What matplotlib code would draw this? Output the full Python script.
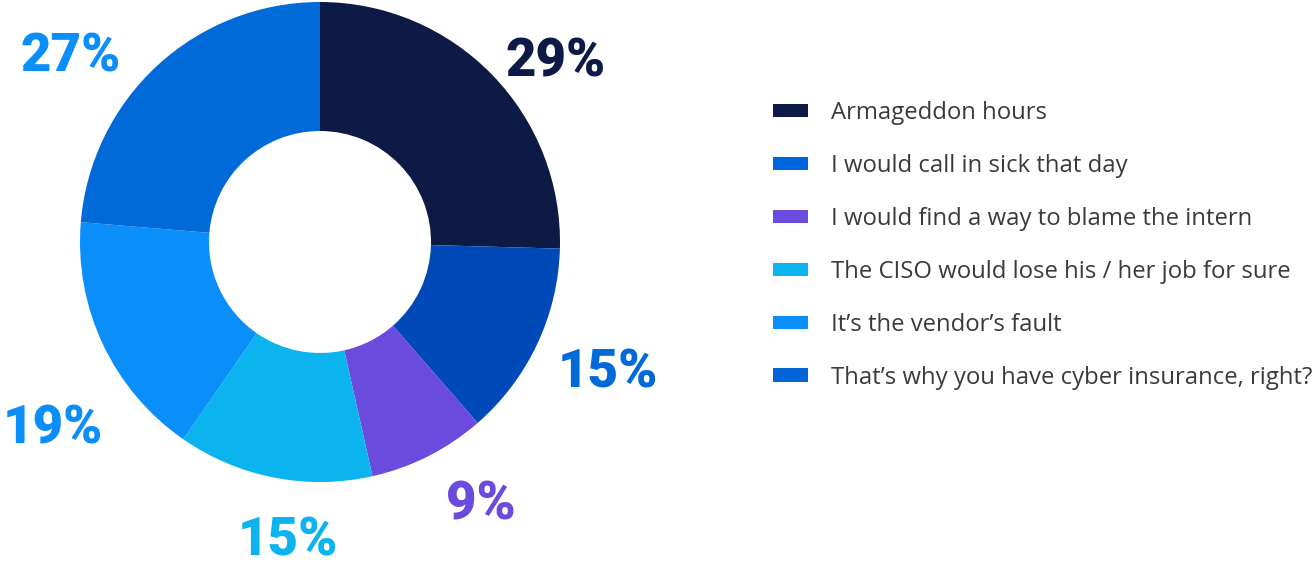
import matplotlib
matplotlib.use("Agg")
import matplotlib.pyplot as plt
from matplotlib.patches import Patch

# survey answers, clockwise from 12 o'clock
answers = [
    "Armageddon hours",
    "I would call in sick that day",
    "I would find a way to blame the intern",
    "The CISO would lose his / her job for sure",
    "It\u2019s the vendor\u2019s fault",
    "That\u2019s why you have cyber insurance, right?",
]
shares = [29, 15, 9, 15, 19, 27]

slice_colors = ["#0c1a45", "#0049b8", "#6b4ade", "#0bb4ee", "#0a8ffa", "#006ad9"]
legend_colors = ["#0c1a45", "#0066dd", "#6b4ade", "#0bb4ee", "#0a8ffa", "#0064d6"]
label_colors = ["#0c1a45", "#006ad9", "#6b4ade", "#0bb4ee", "#0a8ffa", "#0a8ffa"]

# label offsets from the centre, in units of the outer radius
label_xy = [(0.983, 0.750), (1.200, -0.546), (0.671, -1.096),
            (-0.133, -1.246), (-1.113, -0.779), (-1.038, 0.771)]

W, H = 1315, 565
fig = plt.figure(figsize=(W / 100, H / 100), dpi=100)

# donut axes: centre at (320, 242) px, outer radius 240 px
ax = fig.add_axes([0, 0, 640 / W, 1])
R = 240.0

wedges, _ = ax.pie(shares, colors=slice_colors, startangle=90, counterclock=False,
                   radius=1, wedgeprops=dict(width=1 - 111 / R, linewidth=0))

# pie() resets the limits, so set them afterwards
ax.set_xlim(-320 / R, 320 / R)
ax.set_ylim(-(H - 242) / R, 242 / R)
ax.set_aspect("equal")
ax.axis("off")

for (x, y), v, c in zip(label_xy, shares, label_colors):
    ax.text(x, y, f"{v}%", ha="center", va="center", fontsize=38,
            fontweight="black", family="Roboto", color=c)

handles = [Patch(facecolor=c, edgecolor="none") for c in legend_colors]
leg = fig.legend(handles, answers, loc="upper left",
                 bbox_to_anchor=(773 / W, 1 - 101 / H), frameon=False,
                 borderpad=0, borderaxespad=0,
                 prop={"family": "Open Sans", "size": 17.2},
                 handlelength=1.48, handleheight=0.47, handletextpad=0.93,
                 labelspacing=1.21)
for t in leg.get_texts():
    t.set_color("#3a3a3a")

fig.savefig("out.png", dpi=100)
